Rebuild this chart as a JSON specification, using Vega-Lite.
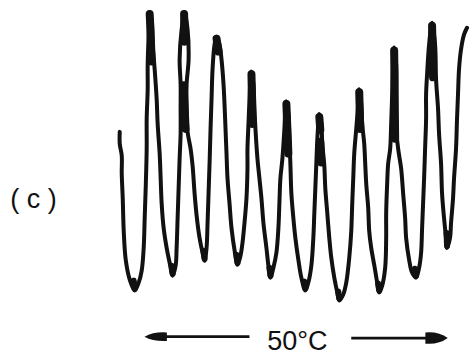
{
  "$schema": "https://vega.github.io/schema/vega-lite/v6.json",
  "width": 469,
  "height": 355,
  "autosize": {"type": "fit", "contains": "padding"},
  "padding": 0,
  "background": "white",
  "config": {"view": {"stroke": null}},
  "datasets": {
    "trace": [
      {"i":0,"x":120,"y":133},{"i":1,"x":120,"y":145},{"i":2,"x":122,"y":157},{"i":3,"x":122,"y":175},{"i":4,"x":123,"y":200},{"i":5,"x":124,"y":233},{"i":6,"x":126,"y":262},{"i":7,"x":130,"y":282},{"i":8,"x":135,"y":293},
      {"i":9,"x":139,"y":285},{"i":10,"x":142,"y":273},{"i":11,"x":144,"y":250},{"i":12,"x":145,"y":220},{"i":13,"x":146,"y":190},{"i":14,"x":147,"y":150},{"i":15,"x":147,"y":120},{"i":16,"x":148,"y":90},{"i":17,"x":148,"y":65},{"i":18,"x":149,"y":35},{"i":19,"x":150,"y":12},{"i":20,"x":152,"y":20},{"i":21,"x":153,"y":45},{"i":22,"x":155,"y":70},{"i":23,"x":157,"y":100},{"i":24,"x":158,"y":125},{"i":25,"x":160,"y":155},{"i":26,"x":161,"y":180},{"i":27,"x":162,"y":205},{"i":28,"x":164,"y":230},{"i":29,"x":167,"y":250},{"i":30,"x":170,"y":265},{"i":31,"x":173,"y":278},
      {"i":32,"x":176,"y":268},{"i":33,"x":177,"y":250},{"i":34,"x":178,"y":220},{"i":35,"x":179,"y":190},{"i":36,"x":180,"y":160},{"i":37,"x":181,"y":135},{"i":38,"x":181,"y":110},{"i":39,"x":181,"y":85},{"i":40,"x":180,"y":60},{"i":41,"x":182,"y":30},{"i":42,"x":185,"y":12},{"i":43,"x":188,"y":30},{"i":44,"x":189,"y":60},{"i":45,"x":187,"y":85},{"i":46,"x":187,"y":110},{"i":47,"x":188,"y":133},{"i":48,"x":191,"y":150},{"i":49,"x":193,"y":167},{"i":50,"x":195,"y":195},{"i":51,"x":197,"y":217},{"i":52,"x":200,"y":240},{"i":53,"x":203,"y":255},{"i":54,"x":205,"y":263},
      {"i":55,"x":207,"y":250},{"i":56,"x":208,"y":225},{"i":57,"x":209,"y":195},{"i":58,"x":210,"y":165},{"i":59,"x":211,"y":130},{"i":60,"x":212,"y":100},{"i":61,"x":213,"y":70},{"i":62,"x":215,"y":45},{"i":63,"x":217,"y":37},{"i":64,"x":220,"y":45},{"i":65,"x":222,"y":60},{"i":66,"x":224,"y":85},{"i":67,"x":225,"y":105},{"i":68,"x":226,"y":130},{"i":69,"x":227,"y":155},{"i":70,"x":228,"y":180},{"i":71,"x":230,"y":205},{"i":72,"x":232,"y":230},{"i":73,"x":235,"y":252},{"i":74,"x":238,"y":267},
      {"i":75,"x":241,"y":258},{"i":76,"x":243,"y":245},{"i":77,"x":245,"y":225},{"i":78,"x":247,"y":200},{"i":79,"x":248,"y":170},{"i":80,"x":248,"y":150},{"i":81,"x":249,"y":125},{"i":82,"x":250,"y":100},{"i":83,"x":251,"y":80},{"i":84,"x":252,"y":72},{"i":85,"x":254,"y":85},{"i":86,"x":255,"y":110},{"i":87,"x":256,"y":130},{"i":88,"x":258,"y":160},{"i":89,"x":260,"y":180},{"i":90,"x":262,"y":200},{"i":91,"x":264,"y":225},{"i":92,"x":267,"y":250},{"i":93,"x":269,"y":268},{"i":94,"x":271,"y":280},
      {"i":95,"x":274,"y":270},{"i":96,"x":277,"y":255},{"i":97,"x":279,"y":230},{"i":98,"x":280,"y":205},{"i":99,"x":281,"y":180},{"i":100,"x":283,"y":160},{"i":101,"x":285,"y":130},{"i":102,"x":286,"y":110},{"i":103,"x":287,"y":102},{"i":104,"x":289,"y":115},{"i":105,"x":290,"y":140},{"i":106,"x":291,"y":165},{"i":107,"x":292,"y":195},{"i":108,"x":294,"y":220},{"i":109,"x":296,"y":240},{"i":110,"x":299,"y":262},{"i":111,"x":302,"y":280},{"i":112,"x":306,"y":293},
      {"i":113,"x":309,"y":285},{"i":114,"x":312,"y":268},{"i":115,"x":314,"y":240},{"i":116,"x":315,"y":215},{"i":117,"x":316,"y":190},{"i":118,"x":317,"y":165},{"i":119,"x":318,"y":140},{"i":120,"x":319,"y":125},{"i":121,"x":320,"y":115},{"i":122,"x":322,"y":125},{"i":123,"x":323,"y":145},{"i":124,"x":325,"y":167},{"i":125,"x":326,"y":190},{"i":126,"x":328,"y":215},{"i":127,"x":330,"y":240},{"i":128,"x":332,"y":260},{"i":129,"x":335,"y":280},{"i":130,"x":338,"y":295},{"i":131,"x":340,"y":303},
      {"i":132,"x":344,"y":297},{"i":133,"x":347,"y":285},{"i":134,"x":350,"y":260},{"i":135,"x":352,"y":233},{"i":136,"x":353,"y":205},{"i":137,"x":354,"y":180},{"i":138,"x":355,"y":155},{"i":139,"x":357,"y":130},{"i":140,"x":359,"y":105},{"i":141,"x":360,"y":90},{"i":142,"x":362,"y":105},{"i":143,"x":363,"y":125},{"i":144,"x":365,"y":145},{"i":145,"x":366,"y":165},{"i":146,"x":367,"y":185},{"i":147,"x":369,"y":210},{"i":148,"x":370,"y":233},{"i":149,"x":372,"y":250},{"i":150,"x":375,"y":267},{"i":151,"x":378,"y":285},{"i":152,"x":380,"y":295},
      {"i":153,"x":383,"y":288},{"i":154,"x":386,"y":270},{"i":155,"x":387,"y":240},{"i":156,"x":387,"y":215},{"i":157,"x":388,"y":185},{"i":158,"x":389,"y":165},{"i":159,"x":391,"y":150},{"i":160,"x":392,"y":125},{"i":161,"x":393,"y":95},{"i":162,"x":394,"y":65},{"i":163,"x":395,"y":48},{"i":164,"x":397,"y":65},{"i":165,"x":397,"y":100},{"i":166,"x":397,"y":130},{"i":167,"x":399,"y":150},{"i":168,"x":402,"y":170},{"i":169,"x":404,"y":195},{"i":170,"x":406,"y":220},{"i":171,"x":407,"y":240},{"i":172,"x":410,"y":262},{"i":173,"x":413,"y":275},{"i":174,"x":417,"y":280},
      {"i":175,"x":420,"y":270},{"i":176,"x":422,"y":255},{"i":177,"x":423,"y":230},{"i":178,"x":424,"y":205},{"i":179,"x":425,"y":180},{"i":180,"x":426,"y":150},{"i":181,"x":427,"y":120},{"i":182,"x":427,"y":95},{"i":183,"x":428,"y":75},{"i":184,"x":430,"y":45},{"i":185,"x":433,"y":23},{"i":186,"x":436,"y":45},{"i":187,"x":437,"y":80},{"i":188,"x":439,"y":110},{"i":189,"x":440,"y":135},{"i":190,"x":442,"y":165},{"i":191,"x":443,"y":195},{"i":192,"x":445,"y":220},{"i":193,"x":447,"y":240},{"i":194,"x":448,"y":250},
      {"i":195,"x":451,"y":240},{"i":196,"x":452,"y":225},{"i":197,"x":454,"y":200},{"i":198,"x":455,"y":180},{"i":199,"x":457,"y":150},{"i":200,"x":458,"y":120},{"i":201,"x":459,"y":95},{"i":202,"x":460,"y":70},{"i":203,"x":462,"y":50},{"i":204,"x":465,"y":35},{"i":205,"x":468,"y":28}
    ],
    "blobs": [
      {"b":1,"i":0,"x":150,"y":14},{"b":1,"i":1,"x":151,"y":35},{"b":1,"i":2,"x":152,"y":62},
      {"b":2,"i":0,"x":184.5,"y":14},{"b":2,"i":1,"x":185,"y":42},
      {"b":3,"i":0,"x":184,"y":86},{"b":3,"i":1,"x":185,"y":108},{"b":3,"i":2,"x":186,"y":130},
      {"b":4,"i":0,"x":217,"y":39},{"b":4,"i":1,"x":219,"y":52},
      {"b":5,"i":0,"x":252,"y":75},{"b":5,"i":1,"x":252.5,"y":100},{"b":5,"i":2,"x":253,"y":125},
      {"b":6,"i":0,"x":287,"y":105},{"b":6,"i":1,"x":288,"y":130},{"b":6,"i":2,"x":289,"y":155},
      {"b":7,"i":0,"x":320,"y":118},{"b":7,"i":1,"x":321,"y":131},
      {"b":8,"i":0,"x":321,"y":143},{"b":8,"i":1,"x":322,"y":164},
      {"b":9,"i":0,"x":360,"y":93},{"b":9,"i":1,"x":361,"y":130},
      {"b":10,"i":0,"x":395,"y":51},{"b":10,"i":1,"x":395.5,"y":95},{"b":10,"i":2,"x":396,"y":140},
      {"b":11,"i":0,"x":433,"y":26},{"b":11,"i":1,"x":433.5,"y":50},{"b":11,"i":2,"x":434,"y":78}
    ],
    "tips": [
      {"b":1,"i":0,"x":134,"y":283},{"b":1,"i":1,"x":135,"y":291},
      {"b":2,"i":0,"x":172,"y":268},{"b":2,"i":1,"x":173,"y":276},
      {"b":3,"i":0,"x":204,"y":253},{"b":3,"i":1,"x":205,"y":261},
      {"b":4,"i":0,"x":237,"y":257},{"b":4,"i":1,"x":238,"y":265},
      {"b":5,"i":0,"x":270,"y":270},{"b":5,"i":1,"x":271,"y":278},
      {"b":6,"i":0,"x":305,"y":284},{"b":6,"i":1,"x":306,"y":291},
      {"b":7,"i":0,"x":339,"y":294},{"b":7,"i":1,"x":340,"y":301},
      {"b":8,"i":0,"x":379,"y":286},{"b":8,"i":1,"x":380,"y":293},
      {"b":9,"i":0,"x":416,"y":271},{"b":9,"i":1,"x":417,"y":278},
      {"b":10,"i":0,"x":447.5,"y":235},{"b":10,"i":1,"x":448,"y":248}
    ],
    "labels": [
      {"label":"( c )","x":33.5,"y":210},
      {"label":"50°C","x":298,"y":353}
    ],
    "shafts": [
      {"x":162,"x2":250,"y":339.5},
      {"x":352,"x2":430,"y":341}
    ],
    "heads": [
      {"dir":"left","x":156,"y":339.5},
      {"dir":"right","x":437.5,"y":341}
    ]
  },
  "layer": [
    {
      "data": {"name": "trace"},
      "mark": {"type": "line", "interpolate": "catmull-rom", "color": "#111", "strokeWidth": 4, "strokeJoin": "round", "strokeCap": "round"},
      "encoding": {
        "x": {"field": "x", "type": "quantitative", "scale": {"domain": [0, 469], "nice": false, "zero": false}, "axis": null},
        "y": {"field": "y", "type": "quantitative", "scale": {"domain": [0, 355], "nice": false, "zero": false, "reverse": true}, "axis": null},
        "order": {"field": "i", "type": "quantitative"}
      }
    },
    {
      "data": {"name": "blobs"},
      "mark": {"type": "line", "color": "#111", "strokeWidth": 8, "strokeCap": "round", "strokeJoin": "round"},
      "encoding": {
        "x": {"field": "x", "type": "quantitative"},
        "y": {"field": "y", "type": "quantitative"},
        "detail": {"field": "b", "type": "nominal"},
        "order": {"field": "i", "type": "quantitative"}
      }
    },
    {
      "data": {"name": "tips"},
      "mark": {"type": "line", "color": "#111", "strokeWidth": 6, "strokeCap": "round", "strokeJoin": "round"},
      "encoding": {
        "x": {"field": "x", "type": "quantitative"},
        "y": {"field": "y", "type": "quantitative"},
        "detail": {"field": "b", "type": "nominal"},
        "order": {"field": "i", "type": "quantitative"}
      }
    },
    {
      "data": {"name": "shafts"},
      "mark": {"type": "rule", "color": "#111", "strokeWidth": 2.6},
      "encoding": {
        "x": {"field": "x", "type": "quantitative"},
        "x2": {"field": "x2"},
        "y": {"field": "y", "type": "quantitative"}
      }
    },
    {
      "data": {"name": "heads"},
      "mark": {"type": "point", "filled": true, "color": "#111", "opacity": 1, "size": 500, "strokeWidth": 0},
      "encoding": {
        "x": {"field": "x", "type": "quantitative"},
        "y": {"field": "y", "type": "quantitative"},
        "shape": {"field": "dir", "type": "nominal", "legend": null,
          "scale": {"domain": ["left", "right"], "range": ["M -1 0 Q -0.2 -0.45 1 -0.38 L 1 0.38 Q -0.2 0.45 -1 0 Z", "M 1 0 Q 0.2 -0.6 -1 -0.5 L -1 0.5 Q 0.2 0.6 1 0 Z"]}}
      }
    },
    {
      "data": {"name": "labels"},
      "mark": {"type": "text", "font": "Liberation Sans", "fontSize": 27, "align": "center", "baseline": "alphabetic", "color": "#111"},
      "encoding": {
        "x": {"field": "x", "type": "quantitative"},
        "y": {"field": "y", "type": "quantitative"},
        "text": {"field": "label"}
      }
    }
  ]
}
